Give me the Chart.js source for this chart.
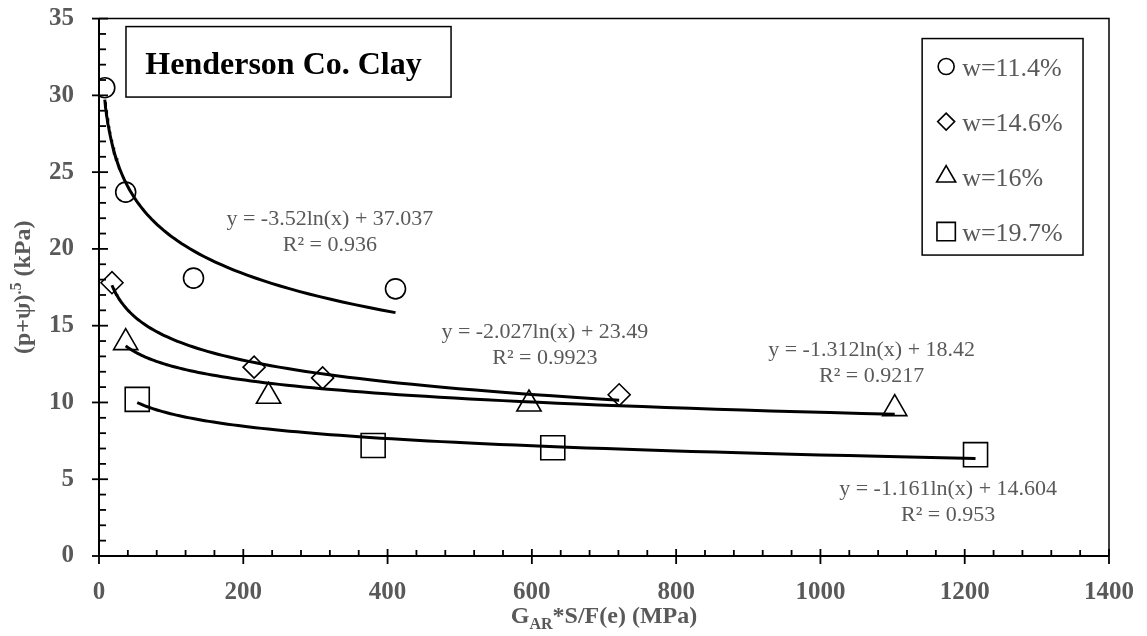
<!DOCTYPE html>
<html>
<head>
<meta charset="utf-8">
<script src="https://cdn.jsdelivr.net/npm/chart.js@4.4.1/dist/chart.umd.min.js"></script>
<style>
  html, body { margin: 0; padding: 0; background: #fff; }
  #wrap { width: 1147px; height: 636px; }
</style>
</head>
<body>
<div id="wrap"><canvas id="grafico" width="1147" height="636"></canvas></div>
<script>
// datos
const series = ['w=11.4%', 'w=14.6%', 'w=16%', 'w=19.7%'];
const xCirculo = [8, 37, 131, 411];
const yCirculo = [30.5, 23.7, 18.1, 17.4];
const xRombo = [18, 215, 310, 721];
const yRombo = [17.8, 12.3, 11.6, 10.5];
const xTriangulo = [37, 235, 596, 1103];
const yTriangulo = [13.9, 10.4, 9.9, 9.6];
const xCuadrado = [53, 380, 629, 1215];
const yCuadrado = [10.2, 7.2, 7.05, 6.6];

// lineas de tendencia logaritmicas (ecuaciones del grafico)
const pendientes = [-3.52, -2.027, -1.312, -1.161];
const interceptos = [37.037, 23.49, 18.42, 14.604];
const ecuaciones = ['y = -3.52ln(x) + 37.037', 'y = -2.027ln(x) + 23.49', 'y = -1.312ln(x) + 18.42', 'y = -1.161ln(x) + 14.604'];
const r2 = ['R² = 0.936', 'R² = 0.9923', 'R² = 0.9217', 'R² = 0.953'];

const xTicks = [0, 200, 400, 600, 800, 1000, 1200, 1400];
const yTicks = [0, 5, 10, 15, 20, 25, 30, 35];

const FUENTE = "'Liberation Serif', 'Times New Roman', serif";
const GRIS = '#595959';

const puntos = (xs, ys) => xs.map((x, i) => ({ x: x, y: ys[i] }));

function tendencia(i, xs) {
  const xmin = Math.min(...xs), xmax = Math.max(...xs);
  const datos = [];
  const n = 80;
  for (let k = 0; k <= n; k++) {
    const x = xmin * Math.pow(xmax / xmin, k / n);
    datos.push({ x: x, y: pendientes[i] * Math.log(x) + interceptos[i] });
  }
  return datos;
}

const grupos = [
  { xs: xCirculo, ys: yCirculo, estilo: 'circle', radio: 10 },
  { xs: xRombo, ys: yRombo, estilo: 'rectRot', radio: 11 },
  { xs: xTriangulo, ys: yTriangulo, estilo: 'triangle', radio: 14 },
  { xs: xCuadrado, ys: yCuadrado, estilo: 'rect', radio: 17 }
];

const datasets = [];
grupos.forEach((g, i) => {
  datasets.push({
    label: series[i],
    data: puntos(g.xs, g.ys),
    pointStyle: g.estilo,
    pointRadius: g.radio,
    pointBorderWidth: 1.6,
    pointBorderColor: '#000',
    pointBackgroundColor: 'rgba(0,0,0,0)',
    showLine: false,
    order: 1
  });
  datasets.push({
    label: 'tendencia ' + series[i],
    data: tendencia(i, g.xs),
    showLine: true,
    borderColor: '#000',
    borderWidth: 3,
    pointRadius: 0,
    tension: 0,
    order: 0
  });
});

// ejes, marcas, titulos, cuadros y etiquetas
const dibujoExtra = {
  id: 'dibujoExtra',
  afterDraw(chart) {
    const ctx = chart.ctx;
    const xs = chart.scales.x, ys = chart.scales.y;
    const a = chart.chartArea;
    ctx.save();

    // marco
    ctx.strokeStyle = '#000';
    ctx.lineWidth = 1.5;
    ctx.beginPath();
    ctx.moveTo(a.left, a.top); ctx.lineTo(a.right, a.top); ctx.lineTo(a.right, a.bottom);
    ctx.stroke();
    ctx.lineWidth = 2;
    ctx.beginPath();
    ctx.moveTo(a.left, a.top); ctx.lineTo(a.left, a.bottom); ctx.lineTo(a.right, a.bottom);
    ctx.stroke();

    // marcas eje x
    ctx.lineWidth = 1.8;
    for (let v = 0; v <= 1400; v += 40) {
      const px = xs.getPixelForValue(v);
      ctx.beginPath();
      if (v % 200 === 0) { ctx.moveTo(px, a.bottom - 7); ctx.lineTo(px, a.bottom + 8); }
      else { ctx.moveTo(px, a.bottom - 6); ctx.lineTo(px, a.bottom); }
      ctx.stroke();
    }
    // marcas eje y
    for (let v = 0; v <= 35; v += 1) {
      const py = ys.getPixelForValue(v);
      ctx.beginPath();
      if (v % 5 === 0) { ctx.moveTo(a.left - 7, py); ctx.lineTo(a.left + 9, py); }
      else { ctx.moveTo(a.left, py); ctx.lineTo(a.left + 7, py); }
      ctx.stroke();
    }

    // titulo eje x con subindice
    ctx.fillStyle = GRIS;
    ctx.textBaseline = 'alphabetic';
    ctx.textAlign = 'left';
    const fG = 'bold 24px ' + FUENTE, fS = 'bold 16px ' + FUENTE;
    const partesX = [['G', fG, 0], ['AR', fS, 6], ['*S/F(e) (MPa)', fG, 0]];
    let ancho = 0;
    partesX.forEach(p => { ctx.font = p[1]; ancho += ctx.measureText(p[0]).width; });
    let cx = (a.left + a.right) / 2 - ancho / 2;
    partesX.forEach(p => { ctx.font = p[1]; ctx.fillText(p[0], cx, 623 + p[2]); cx += ctx.measureText(p[0]).width; });

    // titulo eje y con superindice
    ctx.save();
    ctx.translate(30, (a.top + a.bottom) / 2);
    ctx.rotate(-Math.PI / 2);
    const partesY = [['(p+ψ)', fG, 0], ['.5', fS, -9], [' (kPa)', fG, 0]];
    ancho = 0;
    partesY.forEach(p => { ctx.font = p[1]; ancho += ctx.measureText(p[0]).width; });
    cx = -ancho / 2;
    partesY.forEach(p => { ctx.font = p[1]; ctx.fillText(p[0], cx, p[2]); cx += ctx.measureText(p[0]).width; });
    ctx.restore();

    // cuadro del titulo
    const bx1 = xs.getPixelForValue(37.4), bx2 = xs.getPixelForValue(488);
    const by1 = ys.getPixelForValue(34.48), by2 = ys.getPixelForValue(29.89);
    ctx.fillStyle = '#fff';
    ctx.fillRect(bx1, by1, bx2 - bx1, by2 - by1);
    ctx.lineWidth = 1.5;
    ctx.strokeStyle = '#000';
    ctx.strokeRect(bx1, by1, bx2 - bx1, by2 - by1);
    ctx.fillStyle = '#000';
    ctx.font = 'bold 32px ' + FUENTE;
    ctx.textAlign = 'center';
    ctx.fillText('Henderson Co. Clay', (bx1 + bx2) / 2 - 5, by1 + 47);

    // ecuaciones
    const posEc = [[320, 21.55], [618, 14.17], [1071, 13.0], [1177, 3.95]];
    ctx.fillStyle = GRIS;
    ctx.font = '22px ' + FUENTE;
    posEc.forEach((p, i) => {
      const px = xs.getPixelForValue(p[0]), py = ys.getPixelForValue(p[1]);
      ctx.fillText(ecuaciones[i], px, py);
      ctx.fillText(r2[i], px, py + 26);
    });

    // leyenda
    const lx1 = xs.getPixelForValue(1141), lx2 = xs.getPixelForValue(1364);
    const ly1 = ys.getPixelForValue(33.7), ly2 = ys.getPixelForValue(19.6);
    ctx.fillStyle = '#fff';
    ctx.fillRect(lx1, ly1, lx2 - lx1, ly2 - ly1);
    ctx.lineWidth = 1.5;
    ctx.strokeStyle = '#000';
    ctx.strokeRect(lx1, ly1, lx2 - lx1, ly2 - ly1);
    const radiosLeyenda = [8, 8.5, 11, 13];
    ctx.font = '26px ' + FUENTE;
    ctx.textAlign = 'left';
    grupos.forEach((g, i) => {
      const py = ly1 + 28 + i * 55;
      ctx.lineWidth = 1.6;
      ctx.strokeStyle = '#000';
      ctx.fillStyle = 'rgba(0,0,0,0)';
      Chart.helpers.drawPoint(ctx, { pointStyle: g.estilo, radius: radiosLeyenda[i], borderWidth: 1.6 }, lx1 + 24, py);
      ctx.fillStyle = GRIS;
      ctx.fillText(series[i], lx1 + 40, py + 9);
    });

    ctx.restore();
  }
};

const ctxGrafico = document.getElementById('grafico').getContext('2d');
new Chart(ctxGrafico, {
  type: 'scatter',
  data: { datasets: datasets },
  options: {
    responsive: false,
    animation: false,
    layout: { padding: { top: 15, right: 38, left: 0, bottom: 0 } },
    plugins: {
      legend: { display: false },
      tooltip: { enabled: false }
    },
    scales: {
      x: {
        type: 'linear',
        min: 0,
        max: 1400,
        afterBuildTicks: (s) => { s.ticks = xTicks.map(v => ({ value: v })); },
        afterFit: (s) => { s.height = 80; s.paddingLeft = 0; s.paddingRight = 0; },
        grid: { display: false, drawTicks: false },
        border: { display: false },
        ticks: {
          padding: 22,
          color: GRIS,
          callback: (v) => String(v),
          font: { family: FUENTE, size: 25, weight: 'bold' }
        }
      },
      y: {
        type: 'linear',
        min: 0,
        max: 35,
        afterBuildTicks: (s) => { s.ticks = yTicks.map(v => ({ value: v })); },
        afterFit: (s) => { s.width = 99; s.paddingTop = 0; s.paddingBottom = 0; },
        grid: { display: false, drawTicks: false },
        border: { display: false },
        ticks: {
          padding: 25,
          color: GRIS,
          callback: (v) => String(v),
          font: { family: FUENTE, size: 25, weight: 'bold' }
        }
      }
    }
  },
  plugins: [dibujoExtra]
});
</script>
</body>
</html>
